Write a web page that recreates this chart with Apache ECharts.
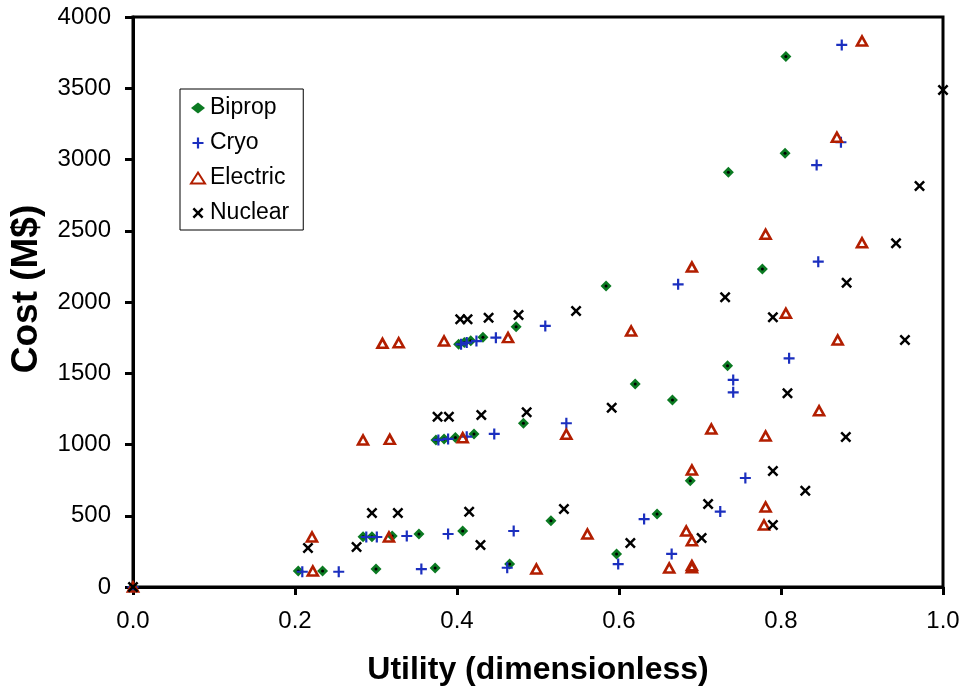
<!DOCTYPE html>
<html>
<head>
<meta charset="utf-8">
<script src="https://cdn.jsdelivr.net/npm/echarts@6/dist/echarts.min.js"></script>
<style>
  html, body { margin: 0; padding: 0; background: #fff; }
  #chart { width: 964px; height: 693px; }
</style>
</head>
<body>
<div id="chart"></div>
<script>
// [utility, cost M$]
const bipropPoints = [
  [0, 0],
  [0.204, 112], [0.234, 112], [0.300, 126], [0.373, 133], [0.465, 161], [0.597, 232],
  [0.284, 352], [0.295, 352], [0.320, 358], [0.353, 372], [0.407, 393], [0.516, 465], [0.647, 512], [0.688, 746],
  [0.374, 1032], [0.384, 1039], [0.398, 1050], [0.421, 1074], [0.482, 1149], [0.620, 1425], [0.666, 1312], [0.734, 1553],
  [0.402, 1703], [0.409, 1715], [0.417, 1728], [0.432, 1752], [0.473, 1827], [0.584, 2112], [0.777, 2231],
  [0.735, 2910], [0.805, 3043], [0.806, 3722]
]
const cryoPoints = [
  [0, 0],
  [0.209, 107], [0.254, 107], [0.356, 126], [0.462, 135], [0.599, 161], [0.665, 232],
  [0.288, 351], [0.301, 351], [0.338, 358], [0.389, 372], [0.470, 393], [0.631, 477], [0.725, 529], [0.756, 765],
  [0.377, 1032], [0.389, 1039], [0.412, 1055], [0.446, 1074], [0.535, 1149], [0.741, 1366], [0.741, 1453], [0.810, 1605],
  [0.405, 1703], [0.412, 1715], [0.424, 1726], [0.448, 1750], [0.509, 1832], [0.673, 2124], [0.846, 2283],
  [0.844, 2961], [0.874, 3121], [0.875, 3804]
]
const electricPoints = [
  [0, 0],
  [0.222, 112], [0.498, 126], [0.662, 133], [0.690, 135], [0.690, 150],
  [0.221, 351], [0.316, 351], [0.561, 372], [0.683, 393], [0.690, 325], [0.779, 435], [0.781, 561], [0.690, 821],
  [0.284, 1032], [0.317, 1036], [0.407, 1048], [0.535, 1072], [0.714, 1109], [0.781, 1060], [0.847, 1237],
  [0.308, 1710], [0.328, 1714], [0.384, 1726], [0.463, 1750], [0.615, 1797], [0.806, 1921], [0.870, 1733],
  [0.690, 2245], [0.781, 2475], [0.900, 2416], [0.869, 3156], [0.900, 3832]
]
const nuclearPoints = [
  [0, 0],
  [0.216, 274], [0.276, 281], [0.295, 519], [0.327, 519], [0.415, 528], [0.429, 295], [0.532, 547],
  [0.614, 309], [0.702, 344], [0.710, 582], [0.790, 435], [0.790, 814], [0.830, 676],
  [0.376, 1195], [0.390, 1195], [0.430, 1207], [0.486, 1226], [0.591, 1258], [0.808, 1359], [0.880, 1053],
  [0.404, 1879], [0.413, 1879], [0.439, 1890], [0.476, 1909], [0.547, 1937], [0.731, 2033], [0.790, 1893],
  [0.953, 1733], [0.881, 2135],
  [0.942, 2412], [0.971, 2814], [1.000, 3488]
]

const FONT = 'Liberation Sans, Arial, sans-serif'
const PLUS = 'path://M4,0H6V4H10V6H6V10H4V6H0V4H4Z'
const CROSS = 'path://M0,1.6L1.6,0L5,3.4L8.4,0L10,1.6L6.6,5L10,8.4L8.4,10L5,6.6L1.6,10L0,8.4L3.4,5Z'

const chart = echarts.init(document.getElementById('chart'))

function axisCommon() {
  return {
    axisLine: { show: true, lineStyle: { color: '#000', width: 3 } },
    axisTick: { show: true, inside: false, length: 8, lineStyle: { color: '#000', width: 3 } },
    splitLine: { show: false },
  }
}

chart.setOption({
  animation: false,
  backgroundColor: '#fff',
  grid: {
    left: 133, right: 21, top: 17, bottom: 106,
    outerBoundsMode: 'none',
    containLabel: false,
    show: true, borderColor: '#000', borderWidth: 3,
  },
  legend: {
    orient: 'vertical',
    left: 180, top: 89,
    padding: [7, 14, 5, 10],
    itemGap: 11,
    itemWidth: 14, itemHeight: 11,
    borderColor: '#000', borderWidth: 1,
    textStyle: { color: '#000', fontFamily: FONT, fontSize: 23, lineHeight: 24 },
    data: ['Biprop', 'Cryo', 'Electric', 'Nuclear'],
  },
  xAxis: {
    type: 'value',
    min: 0, max: 1, interval: 0.2,
    name: 'Utility (dimensionless)',
    nameLocation: 'middle',
    nameGap: 67,
    nameTextStyle: { color: '#000', fontFamily: FONT, fontSize: 32, fontWeight: 'bold' },
    axisLabel: { color: '#000', fontFamily: FONT, fontSize: 24, margin: 22, formatter: v => v.toFixed(1) },
    ...axisCommon(),
  },
  yAxis: {
    type: 'value',
    min: 0, max: 4000, interval: 500,
    name: 'Cost (M$)',
    nameLocation: 'middle',
    nameRotate: 90,
    nameGap: 88,
    nameTextStyle: { color: '#000', fontFamily: FONT, fontSize: 37, fontWeight: 'bold', padding: [0, 0, 0, 26] },
    axisLabel: { color: '#000', fontFamily: FONT, fontSize: 24, margin: 22, formatter: v => String(v) },
    ...axisCommon(),
  },
  series: [
    {
      name: 'Biprop', type: 'scatter', data: bipropPoints,
      symbol: 'diamond', symbolSize: 11,
      itemStyle: { color: '#0b7a22', opacity: 1 },
    },
    {
      // dark centre dot of the biprop diamonds
      name: 'BipropDot', type: 'scatter', data: bipropPoints,
      symbol: 'circle', symbolSize: 3,
      itemStyle: { color: '#000', opacity: 1 },
      silent: true,
    },
    {
      name: 'Cryo', type: 'scatter', data: cryoPoints,
      symbol: PLUS, symbolSize: 11,
      itemStyle: { color: '#1b2fbf', opacity: 1 },
    },
    {
      name: 'Electric', type: 'scatter', data: electricPoints,
      symbol: 'triangle', symbolSize: [10, 9],
      itemStyle: { color: 'rgba(255,255,255,0)', borderColor: '#b21e00', borderWidth: 2.6, opacity: 1 },
    },
    {
      name: 'Nuclear', type: 'scatter', data: nuclearPoints,
      symbol: CROSS, symbolSize: 11,
      itemStyle: { color: '#000', opacity: 1 },
    },
  ],
})
</script>
</body>
</html>
